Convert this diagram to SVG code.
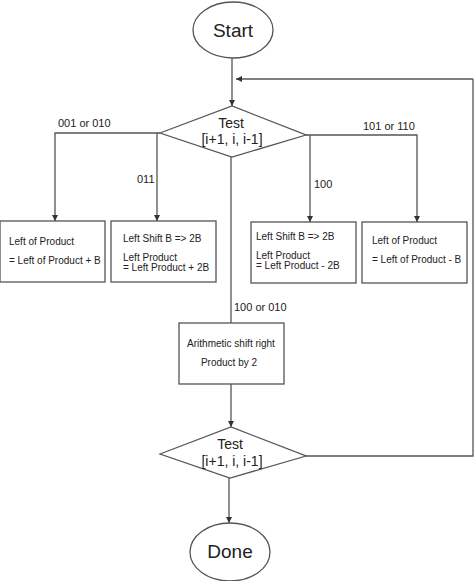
<svg xmlns="http://www.w3.org/2000/svg" width="474" height="581" viewBox="0 0 474 581">
<defs>
<style>
.ln{fill:none;stroke:#555;stroke-width:1.3}
.sh{fill:#fff;stroke:#555;stroke-width:1.3}
text{font-family:"Liberation Sans",Arial,sans-serif;fill:#222}
.big{font-size:19px}
.dm{font-size:14px;text-anchor:middle}
.lb{font-size:11px}
.bx{font-size:10px}
.c{text-anchor:middle}
</style>
<marker id="ah" viewBox="0 0 6 6" refX="6" refY="3" markerWidth="6" markerHeight="6" markerUnits="userSpaceOnUse" orient="auto">
<path d="M0,0 L6,3 L0,6 Z" fill="#333"/>
</marker>
</defs>
<rect width="474" height="581" fill="#fff"/>
<g id="connectors">
<path class="ln" d="M232,58 V106" marker-end="url(#ah)"/>
<path class="ln" d="M473,79 H236" marker-end="url(#ah)"/>
<path class="ln" d="M160,133 H55 V221" marker-end="url(#ah)"/>
<path class="ln" d="M157,133 V221" marker-end="url(#ah)"/>
<path class="ln" d="M306,135 H417 V222" marker-end="url(#ah)"/>
<path class="ln" d="M310,135 V222" marker-end="url(#ah)"/>
<path class="ln" d="M231,157 V323"/>
<path class="ln" d="M231,384 V427" marker-end="url(#ah)"/>
<path class="ln" d="M306,456 H473 V79"/>
<path class="ln" d="M229,478 V523" marker-end="url(#ah)"/>
<text class="lb" x="58" y="127">001 or 010</text>
<text class="lb" x="363" y="130">101 or 110</text>
<text class="lb" x="137" y="183">011</text>
<text class="lb" x="314" y="188">100</text>
<text class="lb" x="234" y="311">100 or 010</text>
</g>
<g id="start">
<ellipse class="sh" cx="233" cy="30" rx="40" ry="28"/>
<text class="big c" x="233" y="37">Start</text>
</g>
<g id="test1">
<path class="sh" d="M160,133 L232,106 L306,135 L232,157 Z"/>
<text class="dm" x="231" y="128">Test</text>
<text class="dm" x="232" y="144">[i+1, i, i-1]</text>
</g>
<g id="box1">
<rect class="sh" x="0" y="221" width="105" height="61"/>
<text class="bx" x="9" y="245">Left of Product</text>
<text class="bx" x="9" y="264">= Left of Product + B</text>
</g>
<g id="box2">
<rect class="sh" x="111" y="221" width="105" height="61"/>
<text class="bx" x="123" y="242">Left Shift B =&gt; 2B</text>
<text class="bx" x="123" y="261">Left Product</text>
<text class="bx" x="123" y="271">= Left Product + 2B</text>
</g>
<g id="box3">
<rect class="sh" x="251" y="222" width="105" height="61"/>
<text class="bx" x="256" y="240">Left Shift B =&gt; 2B</text>
<text class="bx" x="256" y="259">Left Product</text>
<text class="bx" x="256" y="269">= Left Product - 2B</text>
</g>
<g id="box4">
<rect class="sh" x="362" y="222" width="105" height="61"/>
<text class="bx" x="372" y="244">Left of Product</text>
<text class="bx" x="372" y="263">= Left of Product - B</text>
</g>
<g id="box5">
<rect class="sh" x="179" y="323" width="105" height="61"/>
<text class="bx c" x="231" y="347">Arithmetic shift right</text>
<text class="bx c" x="229" y="366">Product by 2</text>
</g>
<g id="test2">
<path class="sh" d="M160,454 L231,427 L306,456 L230,478 Z"/>
<text class="dm" x="230" y="449">Test</text>
<text class="dm" x="232" y="466">[i+1, i, i-1]</text>
</g>
<g id="done">
<ellipse class="sh" cx="230" cy="552" rx="40" ry="29"/>
<text class="big c" x="230" y="558">Done</text>
</g>
</svg>
